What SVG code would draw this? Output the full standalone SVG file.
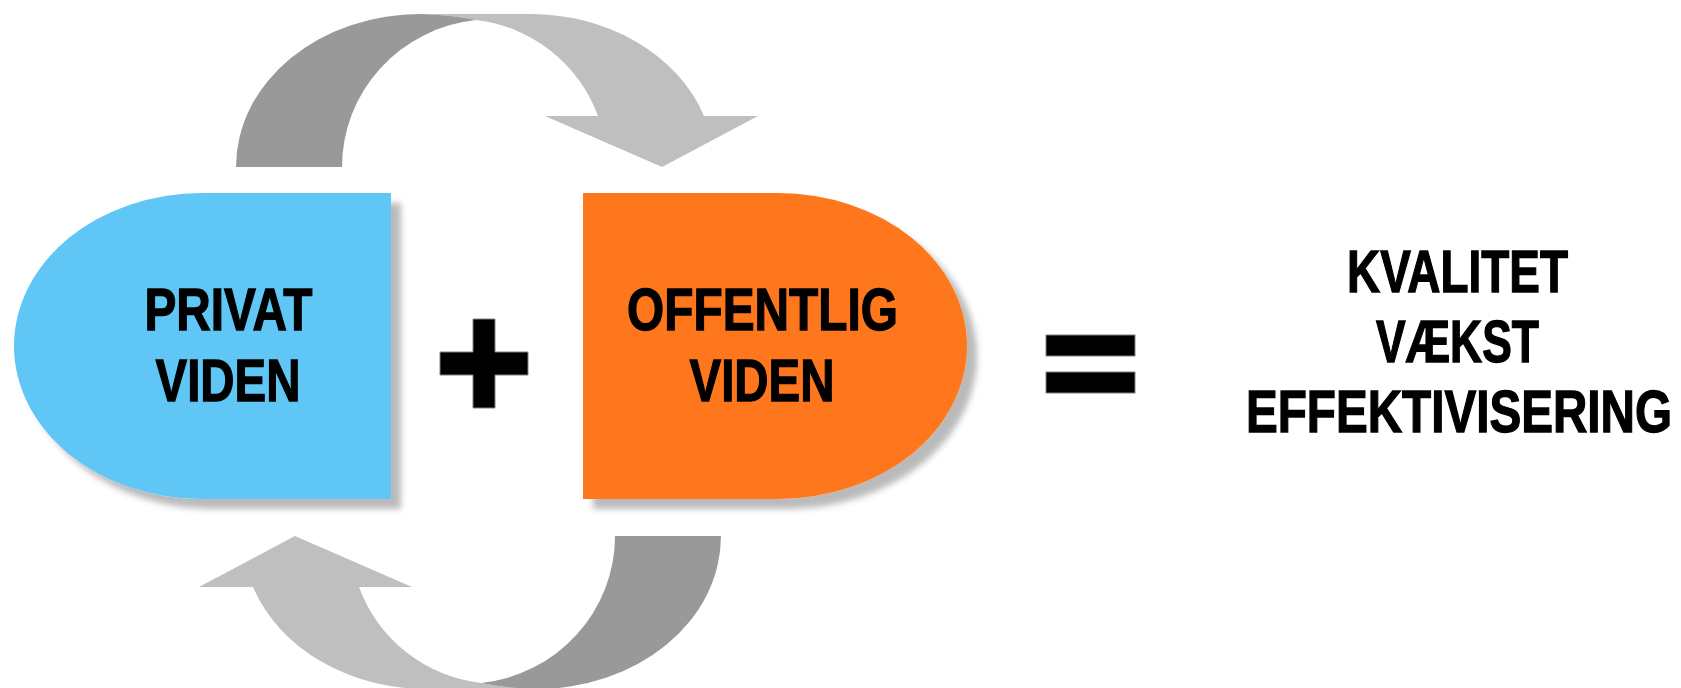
<svg xmlns="http://www.w3.org/2000/svg" width="1681" height="688" viewBox="0 0 1681 688">
<style>
.lbl{font-family:"Liberation Sans",Arial,sans-serif;font-weight:bold;font-size:59px;fill:#000;stroke:#000;stroke-width:1.3;text-anchor:middle}
.dark{fill:#999999}
.light{fill:#bfbfbf}
.sym{fill:#000;stroke:#808080;stroke-width:1}
</style>
<defs>
<filter id="sh" x="-10%" y="-10%" width="130%" height="130%">
<feDropShadow dx="10" dy="10" stdDeviation="3" flood-color="#000" flood-opacity="0.27"/>
</filter>
<g id="loop">
<path class="light" d="M422,14 L527,14 A184,153 0 0 1 704,116 L758,116 L662,167 L545,116 L598,116 A148,148 0 0 0 476,20 Q452,15 422,14 Z"/>
<path class="dark" d="M236,167 A184,153 0 0 1 422,14 Q452,15 476,20 A150,148 0 0 0 342,167 Z"/>
</g>
</defs>
<rect width="1681" height="688" fill="#fff"/>
<g id="connectors">
<use href="#loop"/>
<use href="#loop" transform="rotate(180 478.5 351.5)"/>
</g>
<g id="privat">
<path filter="url(#sh)" fill="#5ec6f5" d="M391,193 L202,193 A188,153 0 0 0 202,499 L391,499 Z"/>
<text class="lbl" x="228.5" y="330" textLength="168" lengthAdjust="spacingAndGlyphs">PRIVAT</text>
<text class="lbl" x="228" y="401" textLength="145" lengthAdjust="spacingAndGlyphs">VIDEN</text>
</g>
<g id="plus">
<path class="sym" d="M473,319 H495 V352 H528 V375 H495 V408 H473 V375 H440 V352 H473 Z"/>
</g>
<g id="offentlig">
<path filter="url(#sh)" fill="#ff771b" d="M583,193 L778,193 A189,153 0 0 1 778,499 L583,499 Z"/>
<text class="lbl" x="762.5" y="330" textLength="271" lengthAdjust="spacingAndGlyphs">OFFENTLIG</text>
<text class="lbl" x="762" y="401" textLength="145" lengthAdjust="spacingAndGlyphs">VIDEN</text>
</g>
<g id="equals">
<rect class="sym" x="1046" y="335" width="89" height="21"/>
<rect class="sym" x="1046" y="372" width="89" height="21"/>
</g>
<g id="result">
<text class="lbl" x="1457.5" y="292" textLength="221" lengthAdjust="spacingAndGlyphs">KVALITET</text>
<text class="lbl" x="1457.5" y="362" textLength="163" lengthAdjust="spacingAndGlyphs">VÆKST</text>
<text class="lbl" x="1459" y="432" textLength="426" lengthAdjust="spacingAndGlyphs">EFFEKTIVISERING</text>
</g>
</svg>
